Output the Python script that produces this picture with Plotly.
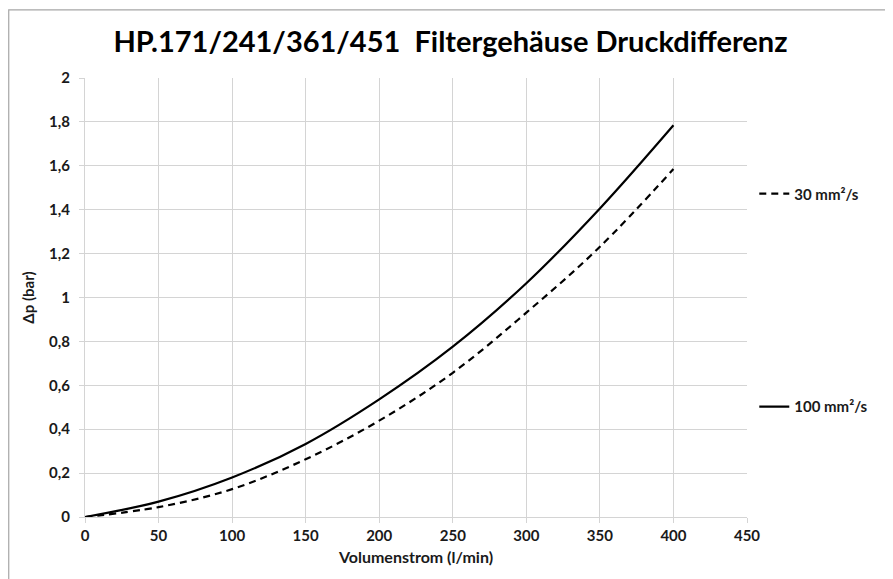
import plotly.graph_objects as go

flow = [0, 50, 100, 150, 200, 250, 300, 350, 400]
dp_100 = [0, 0.07, 0.18, 0.333, 0.536, 0.776, 1.065, 1.406, 1.785]
dp_30 = [0, 0.045, 0.127, 0.263, 0.439, 0.657, 0.931, 1.231, 1.585]

title_text = "HP.171/241/361/451  Filtergehäuse Druckdifferenz"
x_title = "Volumenstrom (l/min)"
y_title = "Δp (bar)"
name_30 = "30 mm²/s"
name_100 = "100 mm²/s"

FONT = "Lato, Carlito, Calibri, sans-serif"
TXT = "#1a1a1a"

fig = go.Figure()
fig.add_trace(go.Scatter(
    x=flow, y=dp_30, mode="lines", name=name_30, line_shape="spline",
    line=dict(color="black", width=2.2, dash="7px,5px"), legend="legend",
    showlegend=True))
fig.add_trace(go.Scatter(
    x=flow, y=dp_100, mode="lines", name=name_100, line_shape="spline",
    line=dict(color="black", width=2.2), legend="legend2", showlegend=True))

grid = "#d4d4d4"
tickfont = dict(family=FONT, size=15, color=TXT, weight="bold")
axis_common = dict(
    showgrid=True, gridcolor=grid, gridwidth=1,
    showline=True, linecolor=grid, linewidth=1,
    ticks="outside", ticklen=5, tickcolor=grid,
    tickfont=tickfont, automargin=False,
    zeroline=False,
)

fig.update_layout(
    width=885, height=571,
    paper_bgcolor="white", plot_bgcolor="white",
    margin=dict(l=77, r=146, t=70, b=62),
    showlegend=True,
    separators=",.",
    title=dict(text=title_text, x=0.5, xanchor="center", y=0.9405, yanchor="middle",
               yref="container",
               font=dict(family=FONT, size=29, color="black", weight="bold")),
    xaxis=dict(range=[0, 450], dtick=50, tick0=0,
               title=dict(text=x_title, standoff=8,
                          font=dict(family=FONT, size=16, color=TXT, weight="bold")),
               **axis_common),
    yaxis=dict(range=[0, 2], dtick=0.2, tick0=0, ticklabelstandoff=6,
               title=dict(text=y_title, standoff=10,
                          font=dict(family=FONT, size=15, color=TXT, weight="bold")),
               **axis_common),
    legend=dict(x=1.011, y=0.736, xanchor="left", yanchor="middle",
                bgcolor="rgba(0,0,0,0)", itemwidth=30,
                font=dict(family=FONT, size=15, color=TXT, weight="bold")),
    legend2=dict(x=1.011, y=0.251, xanchor="left", yanchor="middle",
                 bgcolor="rgba(0,0,0,0)", itemwidth=30,
                 font=dict(family=FONT, size=15, color=TXT, weight="bold")),
    shapes=[dict(type="rect", xref="paper", yref="paper",
                 x0=-0.1152, x1=1.25, y0=-0.2, y1=1.155,
                 line=dict(color="#a6a6a6", width=1.2), fillcolor="rgba(0,0,0,0)",
                 layer="below")],
)

fig.write_html("out.html")
